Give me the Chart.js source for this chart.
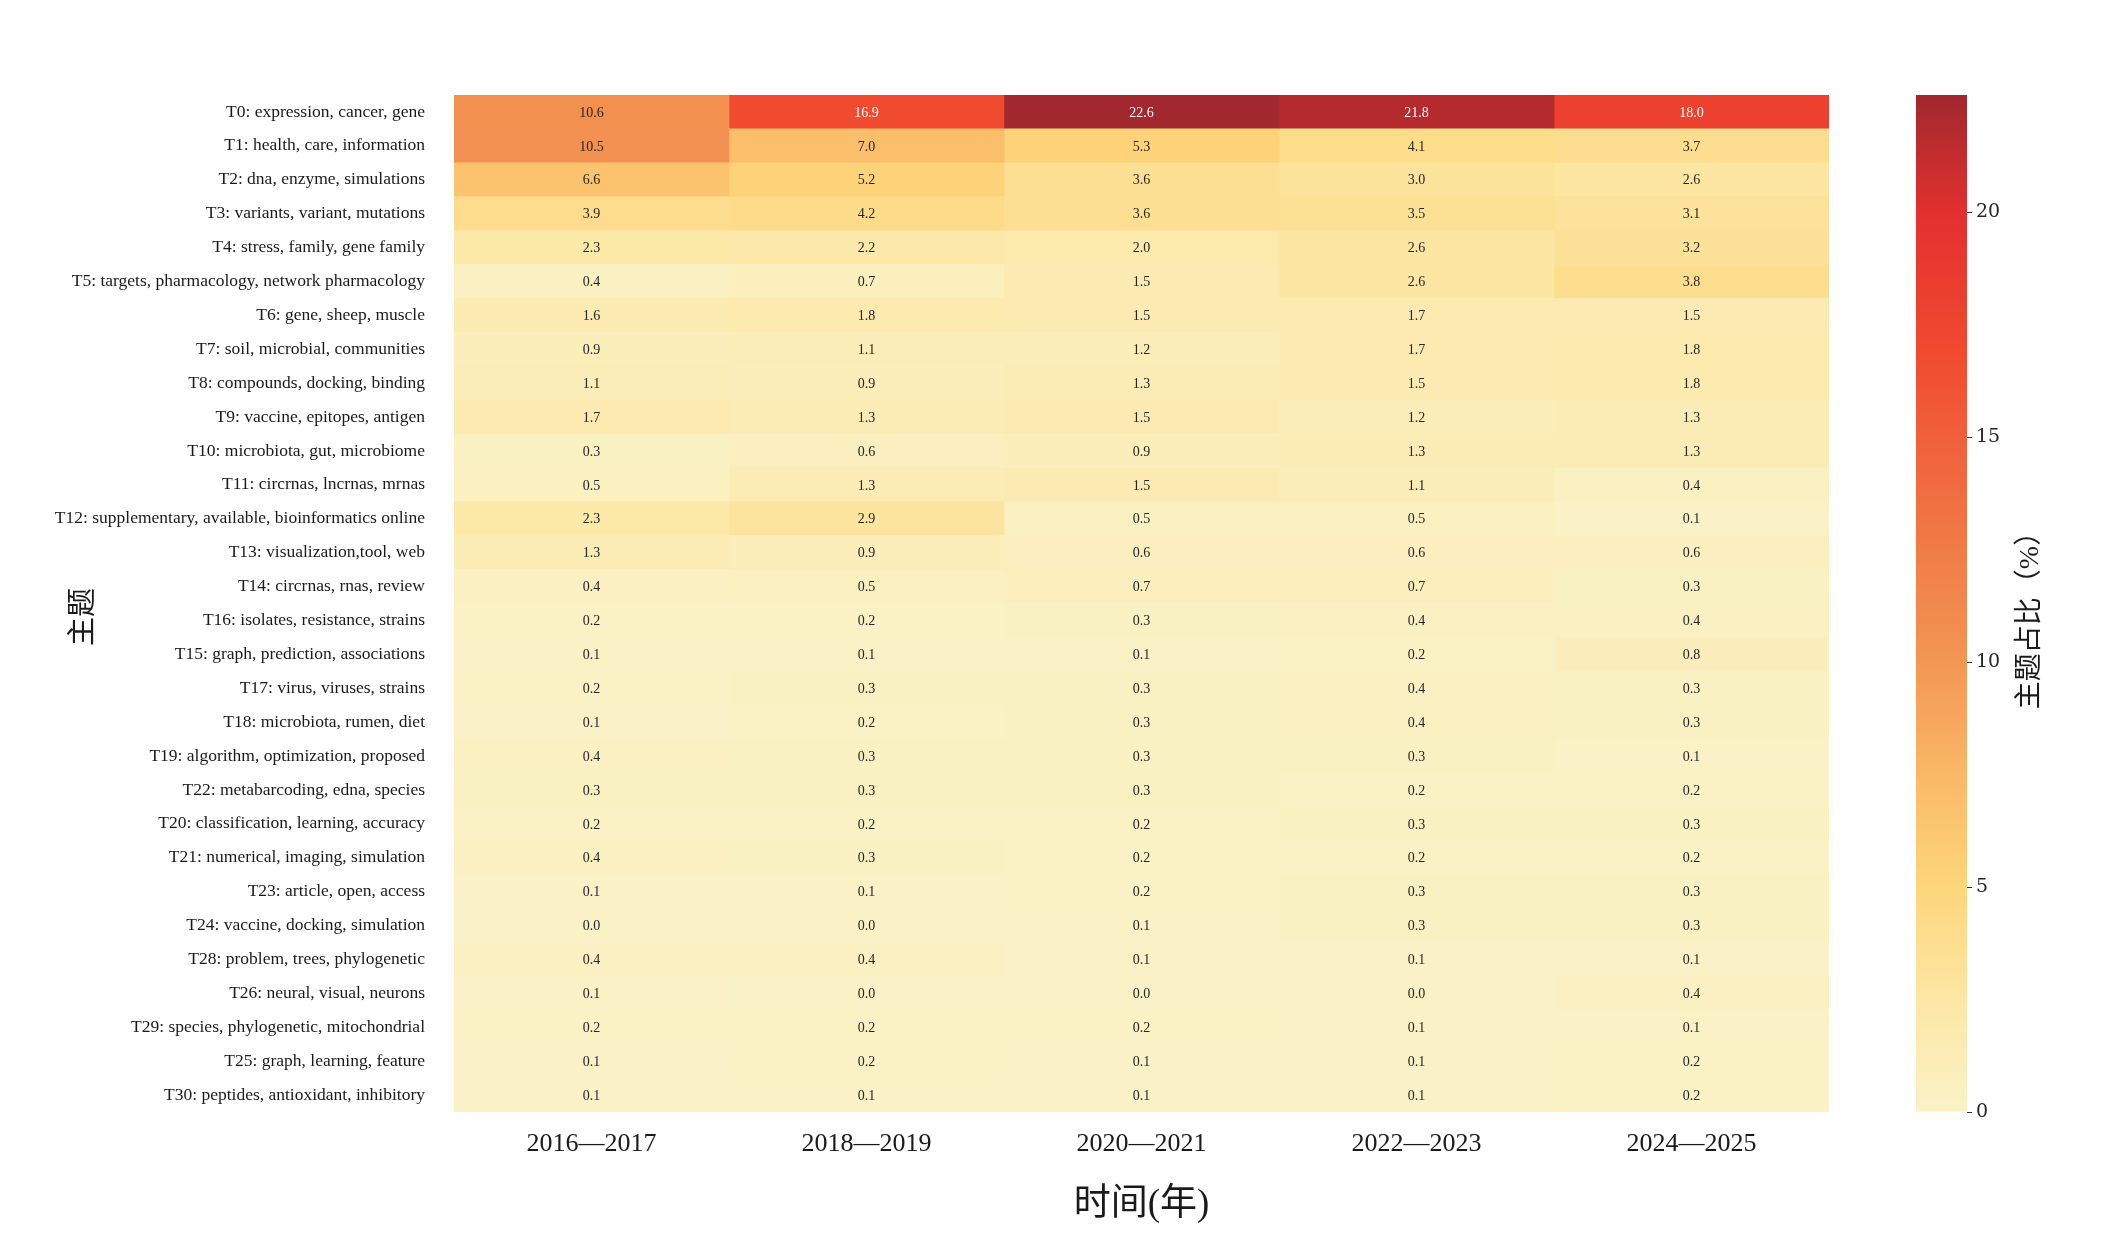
<!DOCTYPE html>
<html>
<head>
<meta charset="utf-8">
<script src="https://cdn.jsdelivr.net/npm/chart.js@4.4.1/dist/chart.umd.min.js"></script>
<style>
  html, body { margin: 0; padding: 0; background: #ffffff; }
  body { width: 2101px; height: 1236px; position: relative; overflow: hidden; }
  #heat_canvas { position: absolute; left: 0; top: 0; }
  #bar_canvas { position: absolute; left: 1880px; top: 0; }
</style>
</head>
<body>
<canvas id="heat_canvas" width="1840" height="1236"></canvas>
<canvas id="bar_canvas" width="221" height="1236"></canvas>
<script>
const topics = [
    'T0: expression, cancer, gene',
    'T1: health, care, information',
    'T2: dna, enzyme, simulations',
    'T3: variants, variant, mutations',
    'T4: stress, family, gene family',
    'T5: targets, pharmacology, network pharmacology',
    'T6: gene, sheep, muscle',
    'T7: soil, microbial, communities',
    'T8: compounds, docking, binding',
    'T9: vaccine, epitopes, antigen',
    'T10: microbiota, gut, microbiome',
    'T11: circrnas, lncrnas, mrnas',
    'T12: supplementary, available, bioinformatics online',
    'T13: visualization,tool, web',
    'T14: circrnas, rnas, review',
    'T16: isolates, resistance, strains',
    'T15: graph, prediction, associations',
    'T17: virus, viruses, strains',
    'T18: microbiota, rumen, diet',
    'T19: algorithm, optimization, proposed',
    'T22: metabarcoding, edna, species',
    'T20: classification, learning, accuracy',
    'T21: numerical, imaging, simulation',
    'T23: article, open, access',
    'T24: vaccine, docking, simulation',
    'T28: problem, trees, phylogenetic',
    'T26: neural, visual, neurons',
    'T29: species, phylogenetic, mitochondrial',
    'T25: graph, learning, feature',
    'T30: peptides, antioxidant, inhibitory',
];

const periods = ['2016\u20142017', '2018\u20142019', '2020\u20142021', '2022\u20142023', '2024\u20142025'];

const share_2016_2017 = [10.6, 10.5, 6.6, 3.9, 2.3, 0.4, 1.6, 0.9, 1.1, 1.7, 0.3, 0.5, 2.3, 1.3, 0.4,
    0.2, 0.1, 0.2, 0.1, 0.4, 0.3, 0.2, 0.4, 0.1, 0.0, 0.4, 0.1, 0.2, 0.1, 0.1];
const share_2018_2019 = [16.9, 7.0, 5.2, 4.2, 2.2, 0.7, 1.8, 1.1, 0.9, 1.3, 0.6, 1.3, 2.9, 0.9, 0.5,
    0.2, 0.1, 0.3, 0.2, 0.3, 0.3, 0.2, 0.3, 0.1, 0.0, 0.4, 0.0, 0.2, 0.2, 0.1];
const share_2020_2021 = [22.6, 5.3, 3.6, 3.6, 2.0, 1.5, 1.5, 1.2, 1.3, 1.5, 0.9, 1.5, 0.5, 0.6, 0.7,
    0.3, 0.1, 0.3, 0.3, 0.3, 0.3, 0.2, 0.2, 0.2, 0.1, 0.1, 0.0, 0.2, 0.1, 0.1];
const share_2022_2023 = [21.8, 4.1, 3.0, 3.5, 2.6, 2.6, 1.7, 1.7, 1.5, 1.2, 1.3, 1.1, 0.5, 0.6, 0.7,
    0.4, 0.2, 0.4, 0.4, 0.3, 0.2, 0.3, 0.2, 0.3, 0.3, 0.1, 0.0, 0.1, 0.1, 0.1];
const share_2024_2025 = [18.0, 3.7, 2.6, 3.1, 3.2, 3.8, 1.5, 1.8, 1.8, 1.3, 1.3, 0.4, 0.1, 0.6, 0.3,
    0.4, 0.8, 0.3, 0.3, 0.1, 0.2, 0.3, 0.2, 0.3, 0.3, 0.1, 0.4, 0.1, 0.2, 0.2];

const period_shares = [share_2016_2017, share_2018_2019, share_2020_2021, share_2022_2023, share_2024_2025];

const scale_max = 22.6;
const scale_ticks = [0, 5, 10, 15, 20];

// colour stops sampled from the reference colour bar (fraction of scale_max, rgb)
const heat_stops = [
    [0.00, [250, 242, 199]],
    [0.10, [252, 232, 168]],
    [0.22, [253, 214, 124]],
    [0.31, [251, 190, 106]],
    [0.46, [242, 146, 81]],
    [0.60, [240, 112, 66]],
    [0.75, [240, 74, 47]],
    [0.885, [227, 48, 47]],
    [1.00, [160, 40, 46]],
];

const serif = "'Liberation Serif', 'Noto Sans CJK SC', serif";

function heat_color(value) {
    const t = Math.max(0, Math.min(1, value / scale_max));
    for (let k = 1; k < heat_stops.length; k++) {
        const [t1, c1] = heat_stops[k];
        const [t0, c0] = heat_stops[k - 1];
        if (t <= t1) {
            const f = (t - t0) / (t1 - t0);
            const rgb = c0.map((c, i) => Math.round(c + (c1[i] - c) * f));
            return 'rgb(' + rgb.join(',') + ')';
        }
    }
    return 'rgb(160,40,46)';
}

const cell_labels = {
    id: 'cell_labels',
    afterDatasetsDraw(chart) {
        const ctx = chart.ctx;
        ctx.save();
        ctx.font = '14px ' + serif;
        ctx.textAlign = 'center';
        ctx.textBaseline = 'middle';
        chart.data.datasets.forEach((ds, j) => {
            const meta = chart.getDatasetMeta(j);
            meta.data.forEach((bar, i) => {
                const v = period_shares[j][i];
                const p = bar.getCenterPoint();
                ctx.fillStyle = v > 14 ? '#ffffff' : '#262626';
                ctx.fillText(v.toFixed(1), p.x, p.y + 1);
            });
        });
        ctx.restore();
    },
};

// y title sits a little below the plot centre in the reference, so draw it by hand
const topic_title = {
    id: 'topic_title',
    afterDraw(chart) {
        const ctx = chart.ctx;
        ctx.save();
        ctx.translate(84, 617);
        ctx.rotate(-Math.PI / 2);
        ctx.font = '29px ' + serif;
        ctx.fillStyle = '#1a1a1a';
        ctx.textAlign = 'center';
        ctx.textBaseline = 'middle';
        ctx.fillText('主题', 0, 0);
        ctx.restore();
    },
};

new Chart(document.getElementById('heat_canvas').getContext('2d'), {
    type: 'bar',
    data: {
        labels: topics,
        datasets: periods.map((p, j) => ({
            label: p,
            data: topics.map(() => [j, j + 1]),
            backgroundColor: period_shares[j].map(heat_color),
            borderWidth: 0,
            barPercentage: 1,
            categoryPercentage: 1,
            grouped: false,
        })),
    },
    options: {
        indexAxis: 'y',
        responsive: false,
        animation: false,
        devicePixelRatio: 1,
        layout: { padding: { top: 95, right: 11, bottom: 0, left: 0 } },
        plugins: {
            legend: { display: false },
            tooltip: { enabled: false },
        },
        scales: {
            x: {
                type: 'linear',
                min: 0,
                max: 5,
                grid: { display: false, drawTicks: false },
                border: { display: false },
                afterBuildTicks: (axis) => {
                    axis.ticks = periods.map((p, j) => ({ value: j + 0.5 }));
                },
                afterFit: (axis) => { axis.height = 124; },
                ticks: {
                    padding: 17,
                    color: '#1a1a1a',
                    font: { family: serif, size: 26 },
                    callback: (v) => periods[Math.floor(v)],
                },
                title: {
                    display: true,
                    text: '时间(年)',
                    color: '#1a1a1a',
                    font: { family: serif, size: 37 },
                    padding: { top: 0, bottom: 9 },
                },
            },
            y: {
                type: 'category',
                grid: { display: false, drawTicks: false },
                border: { display: false },
                afterFit: (axis) => { axis.width = 454; },
                ticks: {
                    padding: 29,
                    color: '#1a1a1a',
                    font: { family: serif, size: 17.5 },
                },
                title: { display: false },
            },
        },
    },
    plugins: [cell_labels, topic_title],
});

const bar_title = {
    id: 'bar_title',
    afterDraw(chart) {
        const axis = chart.scales.y;
        const ctx = chart.ctx;
        ctx.save();
        ctx.translate(axis.left + 64, (axis.top + axis.bottom) / 2 + 10);
        ctx.rotate(-Math.PI / 2);
        ctx.font = '28px ' + serif;
        ctx.fillStyle = '#1a1a1a';
        ctx.textAlign = 'center';
        ctx.textBaseline = 'middle';
        ctx.fillText('主题占比（%）', 0, 0);
        ctx.restore();
    },
};

function bar_gradient(context) {
    const area = context.chart.chartArea;
    if (!area) {
        return heat_stops[0][1];
    }
    const g = context.chart.ctx.createLinearGradient(0, area.bottom, 0, area.top);
    heat_stops.forEach(([t, rgb]) => g.addColorStop(t, 'rgb(' + rgb.join(',') + ')'));
    return g;
}

new Chart(document.getElementById('bar_canvas').getContext('2d'), {
    type: 'bar',
    data: {
        labels: [''],
        datasets: [{
            data: [[0, scale_max]],
            backgroundColor: bar_gradient,
            borderWidth: 0,
            barPercentage: 1,
            categoryPercentage: 1,
        }],
    },
    options: {
        responsive: false,
        animation: false,
        devicePixelRatio: 1,
        layout: { padding: { top: 95, right: 0, bottom: 124, left: 36 } },
        plugins: {
            legend: { display: false },
            tooltip: { enabled: false },
        },
        scales: {
            x: { display: false },
            y: {
                type: 'linear',
                position: 'right',
                min: 0,
                max: scale_max,
                afterBuildTicks: (axis) => {
                    axis.ticks = scale_ticks.map((v) => ({ value: v }));
                },
                afterFit: (axis) => { axis.width = 134; },
                grid: {
                    drawOnChartArea: false,
                    drawTicks: true,
                    tickLength: 5,
                    color: '#333333',
                },
                border: { display: false },
                ticks: {
                    padding: 4,
                    color: '#262626',
                    font: { family: "'DejaVu Serif', serif", size: 19 },
                },
            },
        },
    },
    plugins: [bar_title],
});
</script>
</body>
</html>
